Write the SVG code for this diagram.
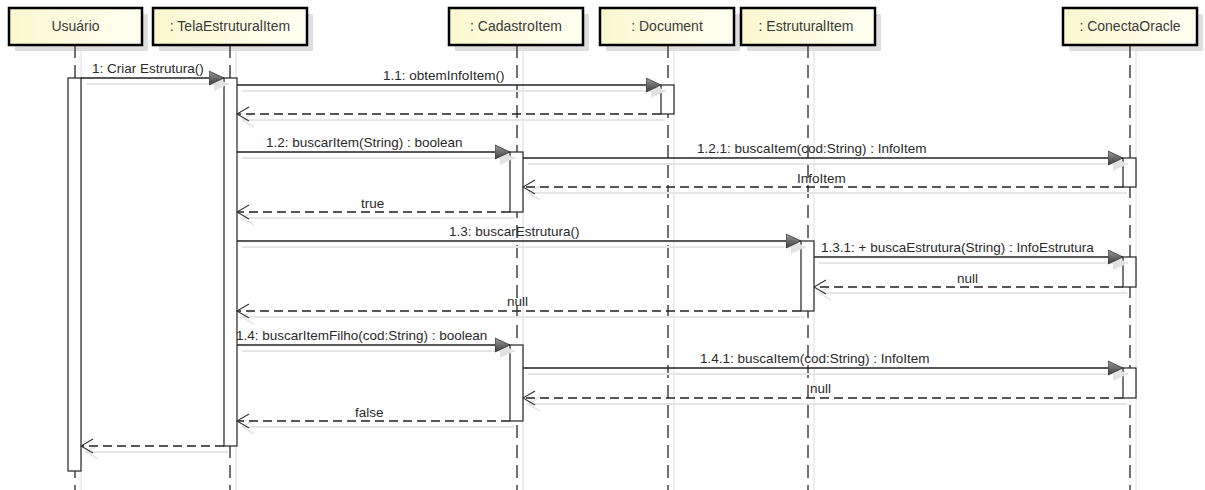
<svg xmlns="http://www.w3.org/2000/svg" width="1205" height="490" viewBox="0 0 1205 490">
  <defs>
    <linearGradient id="headFill" x1="0" y1="0" x2="1" y2="0">
      <stop offset="0" stop-color="#fbf8cf"/>
      <stop offset="1" stop-color="#fffff2"/>
    </linearGradient>
    <linearGradient id="tipFill" x1="0" y1="0" x2="0" y2="1">
      <stop offset="0" stop-color="#9a9a9a"/>
      <stop offset="1" stop-color="#3e3e3e"/>
    </linearGradient>
    <!-- filled head for synchronous calls -->
    <marker id="call" viewBox="0 0 16 16" refX="15" refY="8" markerWidth="16" markerHeight="16" markerUnits="userSpaceOnUse" orient="auto">
      <path d="M0,1 L15,8 L0,15 Z" fill="url(#tipFill)" stroke="#333" stroke-width="0.8"/>
    </marker>
    <marker id="callShadow" viewBox="0 0 16 16" refX="15" refY="8" markerWidth="16" markerHeight="16" markerUnits="userSpaceOnUse" orient="auto">
      <path d="M0,1 L15,8 L0,15 Z" fill="#e2e2e2"/>
    </marker>
    <!-- open head for replies -->
    <marker id="reply" viewBox="0 0 14 16" refX="13" refY="8" markerWidth="14" markerHeight="16" markerUnits="userSpaceOnUse" orient="auto">
      <path d="M1,1 L13,8 L1,15" fill="none" stroke="#333" stroke-width="1.1"/>
    </marker>
    <marker id="replyShadow" viewBox="0 0 14 16" refX="13" refY="8" markerWidth="14" markerHeight="16" markerUnits="userSpaceOnUse" orient="auto">
      <path d="M1,1 L13,8 L1,15" fill="none" stroke="#e4e4e4" stroke-width="1.5"/>
    </marker>
  </defs>
  <style>
    .shadow { fill: #dedede; }
    .head { fill: url(#headFill); stroke: #000; stroke-width: 2.5; }
    .name { font-family: "Liberation Sans", Arial, sans-serif; font-size: 14px; fill: #3a3a3a; text-anchor: middle; }
    .life { stroke: #444; stroke-width: 1.5; stroke-dasharray: 13 7; fill: none; }
    .lifeShadow { stroke: #e8e8e8; stroke-width: 1.5; }
    .act { fill: #fff; stroke: #222; stroke-width: 1.2; }
    .msg { stroke: #222; stroke-width: 1.3; fill: none; }
    .ret { stroke: #222; stroke-width: 1.3; fill: none; stroke-dasharray: 9 5; }
    .msgShadow { stroke: #e6e6e6; stroke-width: 2; fill: none; }
    .label { font-family: "Liberation Sans", Arial, sans-serif; font-size: 13.5px; fill: #2a2a2a; }
  </style>
  <rect width="1205" height="490" fill="#fff"/>

  <!-- Usuário -->
  <g id="usuario">
    <rect class="shadow" x="15" y="14" width="133" height="37"/>
    <line class="lifeShadow" x1="81" y1="51" x2="81" y2="490"/>
    <line class="life" x1="75" y1="45" x2="75" y2="490"/>
    <rect class="head" x="9" y="8" width="133" height="37"/>
    <text class="name" x="75.5" y="31">Usuário</text>
    <rect class="act" x="68" y="78" width="13" height="393"/>
  </g>

  <!-- : TelaEstruturalItem -->
  <g id="telaEstruturalItem">
    <rect class="shadow" x="159" y="14" width="154" height="37"/>
    <line class="lifeShadow" x1="236" y1="51" x2="236" y2="490"/>
    <line class="life" x1="230" y1="45" x2="230" y2="490"/>
    <rect class="head" x="153" y="8" width="154" height="37"/>
    <text class="name" x="230" y="31">: TelaEstruturalItem</text>
    <rect class="act" x="224" y="78" width="13" height="368"/>
  </g>

  <!-- : CadastroItem -->
  <g id="cadastroItem">
    <rect class="shadow" x="455" y="14" width="134" height="37"/>
    <line class="lifeShadow" x1="523" y1="51" x2="523" y2="490"/>
    <line class="life" x1="517" y1="45" x2="517" y2="490"/>
    <rect class="head" x="449" y="8" width="134" height="37"/>
    <text class="name" x="516" y="31">: CadastroItem</text>
    <rect class="act" x="510" y="152" width="13" height="60"/>
    <rect class="act" x="510" y="345" width="13" height="76"/>
  </g>

  <!-- : Document -->
  <g id="document">
    <rect class="shadow" x="606" y="14" width="134" height="37"/>
    <line class="lifeShadow" x1="674" y1="51" x2="674" y2="490"/>
    <line class="life" x1="668" y1="45" x2="668" y2="490"/>
    <rect class="head" x="600" y="8" width="134" height="37"/>
    <text class="name" x="667" y="31">: Document</text>
    <rect class="act" x="661" y="85" width="13" height="29"/>
  </g>

  <!-- : EstruturalItem -->
  <g id="estruturalItem">
    <rect class="shadow" x="747" y="14" width="134" height="37"/>
    <line class="lifeShadow" x1="814" y1="51" x2="814" y2="490"/>
    <line class="life" x1="808" y1="45" x2="808" y2="490"/>
    <rect class="head" x="741" y="8" width="134" height="37"/>
    <text class="name" x="806" y="31">: EstruturalItem</text>
    <rect class="act" x="801" y="241" width="13" height="70"/>
  </g>

  <!-- : ConectaOracle -->
  <g id="conectaOracle">
    <rect class="shadow" x="1069" y="14" width="134" height="37"/>
    <line class="lifeShadow" x1="1136" y1="51" x2="1136" y2="490"/>
    <line class="life" x1="1130" y1="45" x2="1130" y2="490"/>
    <rect class="head" x="1063" y="8" width="134" height="37"/>
    <text class="name" x="1130" y="31">: ConectaOracle</text>
    <rect class="act" x="1123" y="158" width="13" height="29"/>
    <rect class="act" x="1123" y="257" width="13" height="30"/>
    <rect class="act" x="1123" y="368" width="13" height="30"/>
  </g>

  <!-- messages -->
  <g id="connectors">
    <!-- soft drop lines under each message -->
    <g class="msgShadow">
      <line x1="86" y1="84" x2="229" y2="84" marker-end="url(#callShadow)"/>
      <line x1="242" y1="91" x2="666" y2="91" marker-end="url(#callShadow)"/>
      <line x1="665" y1="120" x2="242" y2="120" marker-end="url(#replyShadow)"/>
      <line x1="242" y1="158" x2="515" y2="158" marker-end="url(#callShadow)"/>
      <line x1="528" y1="164" x2="1128" y2="164" marker-end="url(#callShadow)"/>
      <line x1="1127" y1="193" x2="528" y2="193" marker-end="url(#replyShadow)"/>
      <line x1="514" y1="218" x2="242" y2="218" marker-end="url(#replyShadow)"/>
      <line x1="242" y1="247" x2="806" y2="247" marker-end="url(#callShadow)"/>
      <line x1="819" y1="263" x2="1128" y2="263" marker-end="url(#callShadow)"/>
      <line x1="1127" y1="293" x2="819" y2="293" marker-end="url(#replyShadow)"/>
      <line x1="805" y1="317" x2="242" y2="317" marker-end="url(#replyShadow)"/>
      <line x1="242" y1="351" x2="515" y2="351" marker-end="url(#callShadow)"/>
      <line x1="528" y1="374" x2="1128" y2="374" marker-end="url(#callShadow)"/>
      <line x1="1127" y1="404" x2="528" y2="404" marker-end="url(#replyShadow)"/>
      <line x1="514" y1="427" x2="242" y2="427" marker-end="url(#replyShadow)"/>
      <line x1="228" y1="452" x2="86" y2="452" marker-end="url(#replyShadow)"/>
    </g>

    <line class="msg" x1="81" y1="78" x2="224" y2="78" marker-end="url(#call)"/>
    <text class="label" x="92" y="73">1: Criar Estrutura()</text>

    <line class="msg" x1="237" y1="85" x2="661" y2="85" marker-end="url(#call)"/>
    <text class="label" x="383" y="80">1.1: obtemInfoItem()</text>

    <line class="ret" x1="661" y1="114" x2="237" y2="114" marker-end="url(#reply)"/>

    <line class="msg" x1="237" y1="152" x2="510" y2="152" marker-end="url(#call)"/>
    <text class="label" x="266" y="147">1.2: buscarItem(String) : boolean</text>

    <line class="msg" x1="523" y1="158" x2="1123" y2="158" marker-end="url(#call)"/>
    <text class="label" x="697" y="153">1.2.1: buscaItem(cod:String) : InfoItem</text>

    <line class="ret" x1="1123" y1="187" x2="523" y2="187" marker-end="url(#reply)"/>
    <text class="label" x="797" y="183">InfoItem</text>

    <line class="ret" x1="510" y1="212" x2="237" y2="212" marker-end="url(#reply)"/>
    <text class="label" x="361" y="208">true</text>

    <line class="msg" x1="237" y1="241" x2="801" y2="241" marker-end="url(#call)"/>
    <text class="label" x="449" y="236">1.3: buscarEstrutura()</text>

    <line class="msg" x1="814" y1="257" x2="1123" y2="257" marker-end="url(#call)"/>
    <text class="label" x="821" y="252">1.3.1: + buscaEstrutura(String) : InfoEstrutura</text>

    <line class="ret" x1="1123" y1="287" x2="814" y2="287" marker-end="url(#reply)"/>
    <text class="label" x="957" y="283">null</text>

    <line class="ret" x1="801" y1="311" x2="237" y2="311" marker-end="url(#reply)"/>
    <text class="label" x="507" y="306">null</text>

    <line class="msg" x1="237" y1="345" x2="510" y2="345" marker-end="url(#call)"/>
    <text class="label" x="236" y="340">1.4: buscarItemFilho(cod:String) : boolean</text>

    <line class="msg" x1="523" y1="368" x2="1123" y2="368" marker-end="url(#call)"/>
    <text class="label" x="700" y="363">1.4.1: buscaItem(cod:String) : InfoItem</text>

    <line class="ret" x1="1123" y1="398" x2="523" y2="398" marker-end="url(#reply)"/>
    <text class="label" x="810" y="393">null</text>

    <line class="ret" x1="510" y1="421" x2="237" y2="421" marker-end="url(#reply)"/>
    <text class="label" x="355" y="417">false</text>

    <line class="ret" x1="224" y1="446" x2="81" y2="446" marker-end="url(#reply)"/>
  </g>
</svg>
